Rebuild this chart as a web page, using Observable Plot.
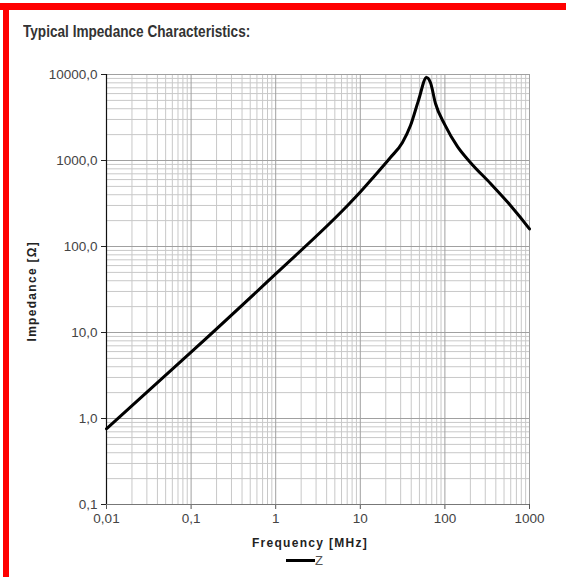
<!DOCTYPE html>
<html><head><meta charset="utf-8">
<script src="https://cdn.jsdelivr.net/npm/d3@7"></script>
<script src="https://cdn.jsdelivr.net/npm/@observablehq/plot@0.6"></script>
<style>
html,body{margin:0;padding:0;background:#fff;}
#wrap{position:relative;width:566px;height:577px;overflow:hidden;font-family:"Liberation Sans",Arial,sans-serif;}
.redtop{position:absolute;left:0;top:3px;width:566px;height:7px;background:#ff0000;}
.redleft{position:absolute;left:3px;top:3px;width:6px;height:574px;background:#ff0000;}
#title{position:absolute;left:23px;top:23px;font-family:"Liberation Sans",Arial,sans-serif;font-weight:bold;font-size:16px;color:#333;white-space:nowrap;transform:scaleX(0.85);transform-origin:left center;}
#chart{position:absolute;left:0;top:0;}
#legend{position:absolute;left:286px;top:553px;font-size:13px;color:#555;display:flex;align-items:center;}
#legend .sw{display:inline-block;width:29px;height:3px;background:#000;}
</style></head>
<body><div id="wrap">
<div class="redtop"></div><div class="redleft"></div>
<div id="title">Typical Impedance Characteristics:</div>
<div id="chart"></div>
<div id="legend"><span class="sw"></span><span>Z</span></div>
</div>
<script>
// Data (frequency in MHz, impedance in Ohm)
const freq = [0.01, 0.1, 1, 6.7, 10, 14.3, 22.7, 31.5, 39.2, 48.7, 60.7, 67.6, 77.4, 100, 141, 200, 346, 596, 972, 1000];
const impedance = [0.76, 5.9, 48, 284, 430, 640, 1083, 1620, 2550, 4990, 9230, 8000, 4600, 2600, 1450, 950, 540, 300, 166, 160];
const xTicks = [0.01, 0.1, 1, 10, 100, 1000];
const xTickLabels = ["0,01", "0,1", "1", "10", "100", "1000"];
const yTicks = [0.1, 1, 10, 100, 1000, 10000];
const yTickLabels = ["0,1", "1,0", "10,0", "100,0", "1000,0", "10000,0"];

const data = freq.map((f, i) => ({f, z: impedance[i]}));
const minorOf = (majors) => majors.slice(0, -1).flatMap(m => [2,3,4,5,6,7,8,9].map(k => m * k));
const xMinor = minorOf(xTicks);
const yMinor = minorOf(yTicks);

const chart = Plot.plot({
  width: 566,
  height: 577,
  marginLeft: 106,
  marginRight: 37,
  marginTop: 74,
  marginBottom: 73,
  style: {fontFamily: "'Liberation Sans', Arial, sans-serif", fontSize: "13px", color: "#444", background: "transparent"},
  x: {type: "log", domain: [0.01, 1000]},
  y: {type: "log", domain: [0.1, 10000]},
  marks: [
    Plot.ruleX(xMinor, {stroke: "#c8c8c8", strokeWidth: 1}),
    Plot.ruleY(yMinor, {stroke: "#c8c8c8", strokeWidth: 1}),
    Plot.ruleX(xTicks, {stroke: "#a0a0a0", strokeWidth: 1}),
    Plot.ruleY(yTicks, {stroke: "#a0a0a0", strokeWidth: 1}),
    Plot.axisX({ticks: xTicks, tickFormat: (d) => xTickLabels[xTicks.indexOf(d)], tickSize: 5, tickPadding: 4, stroke: "#555", fill: "#444", fontSize: 13.5, label: null}),
    Plot.axisY({ticks: yTicks, tickFormat: (d) => yTickLabels[yTicks.indexOf(d)], tickSize: 5, tickPadding: 4, stroke: "#222", fill: "#444", fontSize: 13.5, label: null}),
    Plot.ruleX([0.01], {stroke: "#111", strokeWidth: 1.2}),
    Plot.ruleY([0.1], {stroke: "#777", strokeWidth: 1.2}),
    Plot.text(["Frequency [MHz]"], {frameAnchor: "bottom", dx: -8, dy: 42, fontWeight: "bold", fontSize: 12, fill: "#222"}),
    Plot.text(["Impedance [Ω]"], {frameAnchor: "left", dx: -74, dy: 52, rotate: -90, fontWeight: "bold", fontSize: 12, fill: "#222"}),
    Plot.line(data, {x: "f", y: "z", stroke: "#000", strokeWidth: 3, curve: "monotone-x"})
  ]
});
// letter spacing for the axis titles
d3.select(chart).selectAll("text").filter(function() {
  const t = this.textContent;
  return t === "Frequency [MHz]" || t === "Impedance [Ω]";
}).style("letter-spacing", "1.3px");
document.getElementById("chart").appendChild(chart);
</script>
</body></html>
